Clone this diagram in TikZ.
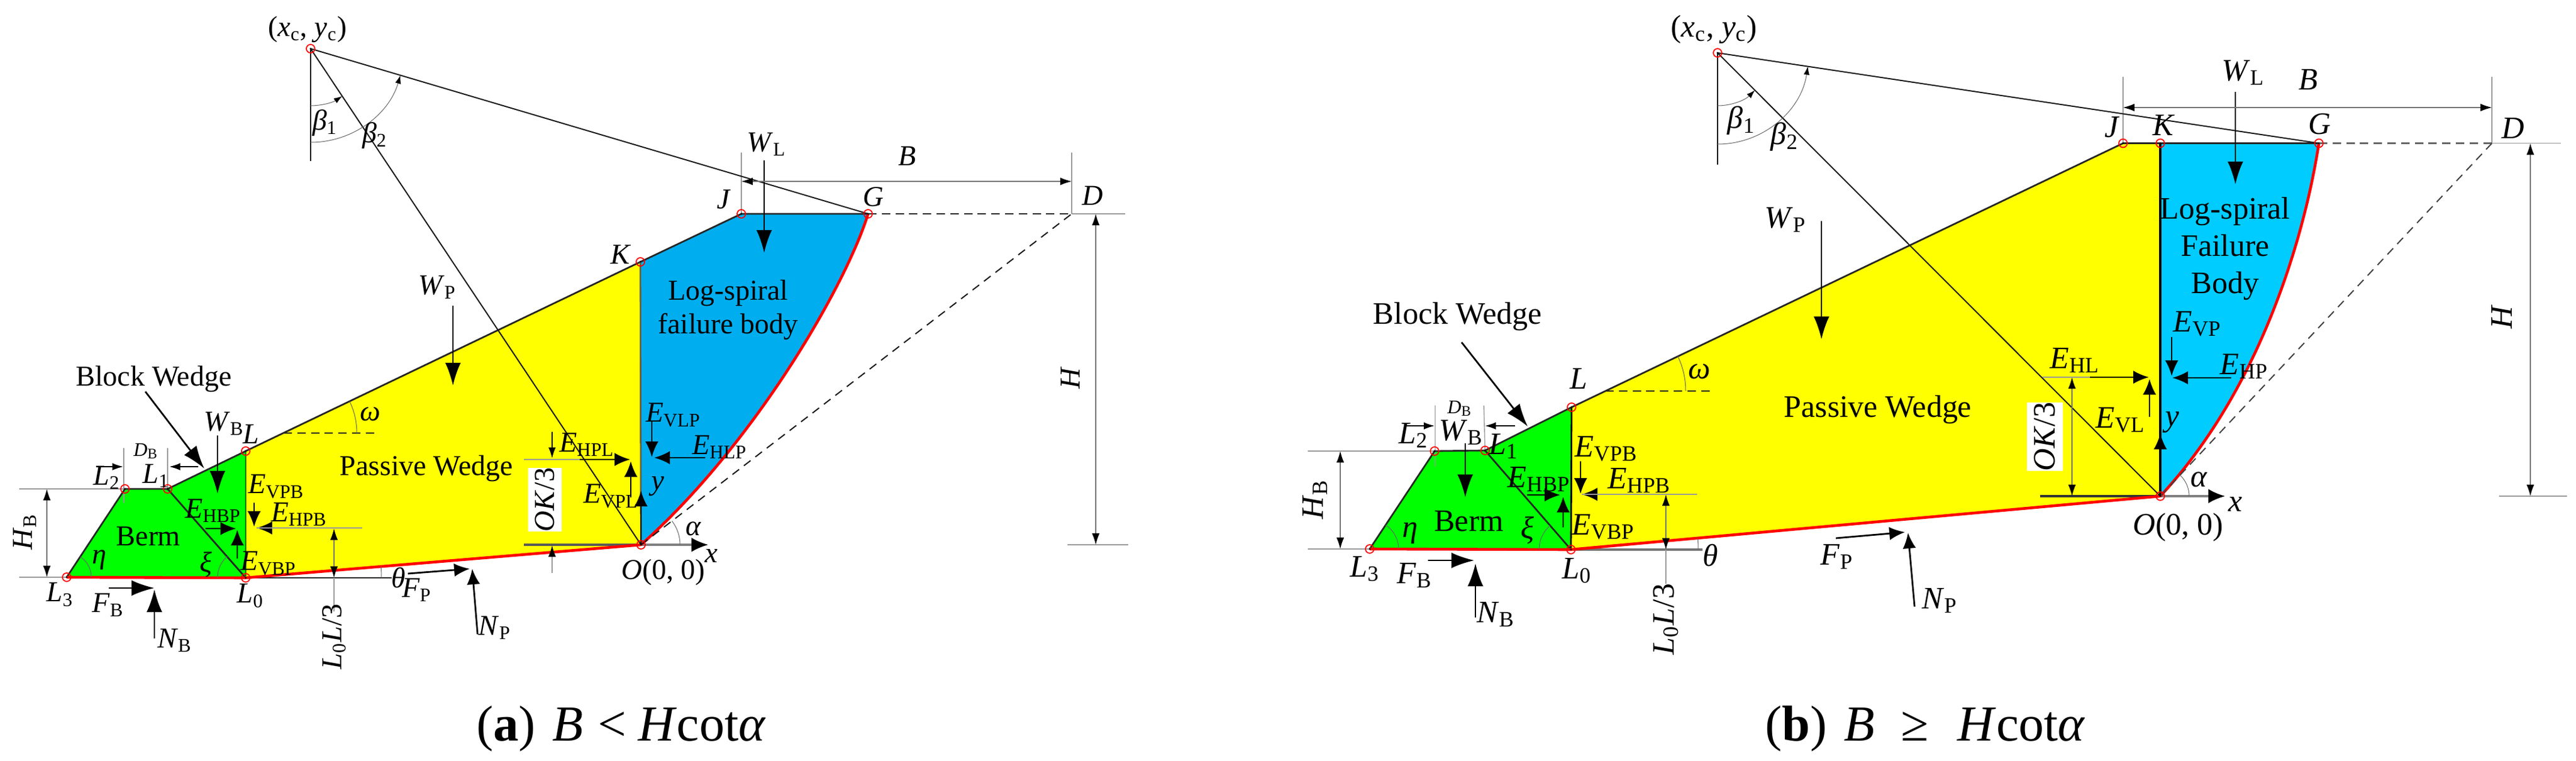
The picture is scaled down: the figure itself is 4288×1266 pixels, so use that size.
\documentclass[tikz,border=0pt]{standalone}
\usepackage{fontspec}
\setmainfont{Liberation Serif}
\usetikzlibrary{arrows.meta}
\newcommand{\lb}[2]{\textit{#1}\textsubscript{#2}}
\definecolor{bluea}{RGB}{0,174,239}
\definecolor{blueb}{RGB}{0,204,255}
\definecolor{wedgey}{RGB}{255,255,0}
\definecolor{wedgeg}{RGB}{0,255,0}
\definecolor{slipred}{RGB}{255,0,0}
\tikzset{
  laba/.style={font=\fontsize{12}{14}\selectfont,inner sep=0pt,align=center},
  labb/.style={font=\fontsize{13}{15}\selectfont,inner sep=0pt,align=center},
  capt/.style={font=\fontsize{21}{24}\selectfont,inner sep=0pt,anchor=base west},
  fbig/.style={-{Latex[length=9.5pt,width=6.5pt]},line width=.7pt},
  fmid/.style={-{Latex[length=6.5pt,width=5.5pt]},line width=.7pt},
  fsml/.style={-{Latex[length=4.5pt,width=3pt]},line width=.4pt},
  dimln/.style={{Latex[length=4.8pt,width=3.2pt,black]}-{Latex[length=4.8pt,width=3.2pt,black]},line width=.35pt,black!55},
  extln/.style={line width=.35pt,black!40},
  bodyln/.style={line width=.7pt,black!85},
  thinln/.style={line width=.5pt,black!90},
  anglearc/.style={line width=.25pt,black!60},
  redln/.style={line width=1.15pt,slipred},
  pinmark/.style={line width=.45pt,slipred},
  okbox/.style={fill=white,rotate=90,inner sep=0pt,minimum width=25pt,minimum height=14pt}
}
\begin{document}
\begin{tikzpicture}[x=.25pt,y=-.25pt,>=stealth]
\useasboundingbox (0,0) rectangle (4288,1266);
% points of (a)
\coordinate (Ca) at (517,81);
\coordinate (L3a) at (111,961);
\coordinate (L2a) at (208,814);
\coordinate (L1a) at (279,814);
\coordinate (La) at (409,751);
\coordinate (L0a) at (409,962);
\coordinate (Ka) at (1066,436);
\coordinate (Ja) at (1234,356);
\coordinate (Ga) at (1445,356);
\coordinate (Da) at (1784,356);
\coordinate (Oa) at (1067,907);
% fills of (a)
\fill[wedgeg] (L3a)--(L2a)--(L1a)--(La)--(L0a)--cycle;
\fill[wedgey] (La)--(L0a)--(Oa)--(Ka)--cycle;
\fill[bluea] (Ka)--(Ja)--(Ga) .. controls (1410,470) and (1260,735) .. (Oa)--cycle;
% lines of (a)
\draw[extln] (32,814)--(L2a) (32,961)--(L3a);
\draw[extln] (206,746)--(206,837) (279,746)--(L1a);
\draw[extln] (1234,254)--(Ja) (Da)--(1784,254);
\draw[extln] (Da)--(1873,356) (1777,907)--(1878,907);
\draw[bodyln] (L3a)--(L2a)--(L1a)--(La)--(Ka)--(Ja)--(Ga);
\draw[bodyln] (L1a)--(L0a);
\draw[line width=.7pt,black!55!green] (La)--(L0a);
\draw[line width=.7pt,black!70!yellow] (Ka)--(Oa);
\draw[bodyln] (L0a)--(652,962);
\draw[line width=.9pt,black!65] (872,907)--(Oa);
\draw[line width=.9pt,black!50,-{Latex[length=7pt,width=6pt,black]}] (Oa)--(1179,907);
\draw[redln] (L3a)--(L0a)--(Oa);
\draw[redln] (Ga) .. controls (1410,470) and (1260,735) .. (Oa);
\draw[bodyln,dashed,dash pattern=on 3.5pt off 2.2pt] (Ga)--(Da);
\draw[thinln,dashed,dash pattern=on 3.5pt off 2.5pt] (Oa)--(Da);
\draw[bodyln,dashed,dash pattern=on 3.5pt off 2.2pt] (472,721)--(626,721);
\draw[thinln] (Ca)--(517,268) (Ca)--(Oa) (Ca)--(Ga);
% arcs of (a)
\draw[anglearc,-{Latex[length=3.5pt,width=2.4pt,black]}] (Ca) ++(-90:23.75pt) arc[start angle=-90,end angle=-56.3,radius=23.75pt];
\draw[anglearc,-{Latex[length=3.5pt,width=2.4pt,black]}] (Ca) ++(-90:39pt) arc[start angle=-90,end angle=-16.5,radius=39pt];
\draw[anglearc] (472,721) ++(0:30.5pt) arc[start angle=0,end angle=25.6,radius=30.5pt];
\draw[anglearc] (L3a) ++(0:10.25pt) arc[start angle=0,end angle=56.6,radius=10.25pt];
\draw[anglearc] (L0a) ++(180:11.75pt) arc[start angle=180,end angle=131.3,radius=11.75pt];
\draw[anglearc] (L0a) ++(0:56.5pt) arc[start angle=0,end angle=4.8,radius=56.5pt];
\draw[anglearc] (Oa) ++(0:16.25pt) arc[start angle=0,end angle=37.5,radius=16.25pt];
% forces of (a)
\draw[fbig] (242,652)--(340,780);
\draw[fbig] (362,725)--(362,822);
\draw[fbig] (754,509)--(754,642);
\draw[fbig] (1272,267)--(1272,421);
\draw[fbig] (181,979)--(257,979);
\draw[fbig] (257,1063)--(257,981);
\draw[fmid] (342,880)--(393,880);
\draw[fmid] (395,930)--(395,882);
\draw[fmid] (477,879)--(427,879);
\draw[fmid] (423,837)--(423,877);
\draw[fsml] (919,719)--(919,763);
\draw[fmid] (965,765)--(1049,765);
\draw[fmid] (1050,828)--(1050,768);
\draw[fmid] (1174,762)--(1089,762);
\draw[fmid] (1085,701)--(1085,761);
\draw[fmid] (Oa)--(1067,817);
\draw[fmid] (679,955)--(782,947);
\draw[fmid] (795,1056)--(786,947);
\draw[fsml] (160,777)--(205,777);
\draw[fsml] (330,777)--(282,777);
% dimensions of (a)
\draw[dimln] (78,814)--(78,961);
\draw[dimln] (556,880)--(556,962);
\draw[extln] (427,879)--(603,879) (556,962)--(556,1018);
\draw[extln] (872,765)--(965,765);
\draw[dimln] (1234,302)--(1784,302);
\draw[dimln] (1824,356)--(1824,907);
\draw[extln,-{Latex[length=4.8pt,width=3.2pt,black]}] (919,954)--(919,908);
\foreach \p in {Ca,L3a,L2a,L1a,La,L0a,Ka,Ja,Ga,Oa} {
  \draw[pinmark] (\p) circle (1.75pt);
  \fill[black] (\p) circle (.4pt);
}
% labels of (a)
\node[laba] (acen) at (512,49) {(\lb{x}{c}, \lb{y}{c})};
\node[laba] (abeta1) at (541,205) {\lb{β}{1}};
\node[laba] (abeta2) at (624,226) {\lb{β}{2}};
\node[laba] (awp) at (728,478) {\lb{W}{P}};
\node[laba] (awl) at (1276,240) {\lb{W}{L}};
\node[laba] (awb) at (373,705) {\lb{W}{B}};
\node[laba] (aB) at (1510,260) {\textit{B}};
\node[laba] (aJ) at (1205,332) {\textit{J}};
\node[laba] (aG) at (1454,328) {\textit{G}};
\node[laba] (aD) at (1819,326) {\textit{D}};
\node[laba] (aK) at (1034,424) {\textit{K}};
\node[laba] (aL) at (418,723) {\textit{L}};
\node[laba,rotate=90] (aH) at (1782,629) {\textit{H}};
\node[laba,rotate=90] (aHB) at (41,885) {\lb{H}{B}};
\node[laba] (aspiral) at (1212,516) {Log-spiral\\[0pt]failure body};
\node[laba] (apassive) at (710,780) {Passive Wedge};
\node[laba] (ablock) at (256,631) {Block Wedge};
\node[laba] (aberm) at (247,893) {Berm};
\node[laba] (aomega) at (616,689) {\textit{ω}};
\node[laba] (aeta) at (165,932) {\textit{η}};
\node[laba] (axi) at (343,940) {\textit{ξ}};
\node[laba] (atheta) at (663,962) {\textit{θ}};
\node[laba] (aalpha) at (1154,880) {\textit{α}};
\node[laba] (ax) at (1184,925) {\textit{x}};
\node[laba] (ay) at (1095,810) {\textit{y}};
\node[laba] (aorigin) at (1104,953) {\textit{O}(0, 0)};
\node[laba] (aL2) at (178,795) {\lb{L}{2}};
\node[laba] (aL1) at (260,792) {\lb{L}{1}};
\node[laba] (aL3) at (100,990) {\lb{L}{3}};
\node[laba] (aL0) at (417,992) {\lb{L}{0}};
\node[laba,font=\fontsize{8}{9}\selectfont] (aDB) at (243,751) {\lb{D}{B}};
\node[laba] (aehbp) at (355,850) {\lb{E}{HBP}};
\node[laba] (aehpb) at (498,856) {\lb{E}{HPB}};
\node[laba] (aevpb) at (460,810) {\lb{E}{VPB}};
\node[laba] (aevbp) at (447,938) {\lb{E}{VBP}};
\node[laba] (aehpl) at (977,740) {\lb{E}{HPL}};
\node[laba] (aevpl) at (1017,826) {\lb{E}{VPL}};
\node[laba] (aevlp) at (1121,691) {\lb{E}{VLP}};
\node[laba] (aehlp) at (1198,744) {\lb{E}{HLP}};
\node[laba] (afb) at (180,1007) {\lb{F}{B}};
\node[laba] (anb) at (291,1066) {\lb{N}{B}};
\node[laba] (afp) at (694,982) {\lb{F}{P}};
\node[laba] (anp) at (824,1045) {\lb{N}{P}};
\node[laba,rotate=90] (aL0L) at (556,1060) {\lb{L}{0}\textit{L}/3};
\node[laba,okbox] (aOK) at (907,832) {\textit{OK}/3};
\node[capt] (capa) at (793,1233) {(\textbf{a})\hspace*{7pt}\textit{B}\hspace*{6pt}<\hspace*{5pt}\textit{H}cot\textit{α}};
% points of (b)
\coordinate (Cb) at (2859,88);
\coordinate (L3b) at (2280,914);
\coordinate (L2b) at (2388,751);
\coordinate (L1b) at (2472,750);
\coordinate (Lb) at (2616,678);
\coordinate (L0b) at (2615,915);
\coordinate (Kb) at (3596,238.5);
\coordinate (Jb) at (3534,238.5);
\coordinate (Gb) at (3860,238.5);
\coordinate (Db) at (4148,238.5);
\coordinate (Ob) at (3596,826);
% fills of (b)
\fill[wedgeg] (L3b)--(L2b)--(L1b)--(Lb)--(L0b)--cycle;
\fill[wedgey] (Lb)--(L0b)--(Ob)--(Kb)--(Jb)--cycle;
\fill[blueb] (Kb)--(Gb) .. controls (3835,400) and (3760,650) .. (Ob)--cycle;
% lines of (b)
\draw[extln] (2177,751)--(L2b) (2177,914)--(L3b);
\draw[extln] (2389,675)--(2389,777) (2470,675)--(L1b);
\draw[extln] (3534,128)--(Jb) (4148,128)--(Db);
\draw[extln] (Db)--(4263,238.5) (4160,826)--(4273,826);
\draw[bodyln] (L3b)--(L2b)--(L1b)--(Lb)--(Jb)--(Gb);
\draw[bodyln] (L1b)--(L0b);
\draw[bodyln,black] (Lb)--(L0b);
\draw[line width=.8pt,black] (Kb)--(Ob);
\draw[line width=.8pt,black!55] (L0b)--(2834,915);
\draw[line width=.9pt,black!80] (3396,826)--(Ob);
\draw[line width=.9pt,black!50,-{Latex[length=7pt,width=6pt,black]}] (Ob)--(3704,826);
\draw[redln] (L3b)--(L0b)--(Ob);
\draw[redln] (Gb) .. controls (3835,400) and (3760,650) .. (Ob);
\draw[bodyln,black!60,dashed,dash pattern=on 3.5pt off 2.2pt] (Gb)--(Db);
\draw[thinln,black!75,dashed,dash pattern=on 3.5pt off 2.5pt] (Ob)--(Db);
\draw[bodyln,dashed,dash pattern=on 3.5pt off 2.2pt] (2672,651)--(2850,651);
\draw[thinln] (Cb)--(2859,274) (Cb)--(Ob) (Cb)--(Gb);
% arcs of (b)
\draw[anglearc,-{Latex[length=3.5pt,width=2.4pt,black]}] (Cb) ++(-90:22pt) arc[start angle=-90,end angle=-45,radius=22pt];
\draw[anglearc,-{Latex[length=3.5pt,width=2.4pt,black]}] (Cb) ++(-90:38pt) arc[start angle=-90,end angle=-8.5,radius=38pt];
\draw[anglearc] (2672,651) ++(0:33.5pt) arc[start angle=0,end angle=25.6,radius=33.5pt];
\draw[anglearc] (L3b) ++(0:12pt) arc[start angle=0,end angle=56.5,radius=12pt];
\draw[anglearc] (L0b) ++(180:13.25pt) arc[start angle=180,end angle=131,radius=13.25pt];
\draw[anglearc] (L0b) ++(0:53pt) arc[start angle=0,end angle=5.2,radius=53pt];
\draw[anglearc] (Ob) ++(0:12pt) arc[start angle=0,end angle=46.8,radius=12pt];
% forces of (b)
\draw[fbig] (2433,570)--(2543,710);
\draw[fbig] (2439,738)--(2439,828);
\draw[fbig] (3032,368)--(3032,565);
\draw[fbig] (3721,153)--(3721,307);
\draw[fbig] (2377,933)--(2454,933);
\draw[fbig] (2456,1028)--(2456,938);
\draw[fmid] (2542,824)--(2597,824);
\draw[fmid] (2602,878)--(2602,827);
\draw[fmid] (2631,768)--(2631,822);
\draw[fmid] (2690,823)--(2633,823);
\draw[fmid] (3479,628)--(3577,628);
\draw[fmid] (3578,694)--(3578,631);
\draw[fmid] (3615,561)--(3615,626);
\draw[fmid] (3714,629)--(3616,629);
\draw[fmid] (Ob)--(3596,722);
\draw[fmid] (3056,896)--(3171,886);
\draw[fmid] (3187,1010)--(3176,887);
\draw[fsml] (2338,709)--(2388,709);
\draw[fsml] (2522,709)--(2472,709);
% dimensions of (b)
\draw[dimln] (2231,751)--(2231,914);
\draw[dimln] (2773,823)--(2773,915);
\draw[extln] (2633,823)--(2825,823) (2773,915)--(2773,972);
\draw[extln] (3400,628)--(3479,628);
\draw[dimln] (3449,628)--(3449,826);
\draw[dimln] (3534,179)--(4148,179);
\draw[dimln] (4212,238.5)--(4212,826);
\foreach \p in {Cb,L3b,L2b,L1b,Lb,L0b,Kb,Jb,Gb,Ob} {
  \draw[pinmark] (\p) circle (1.75pt);
  \fill[black] (\p) circle (.4pt);
}
% labels of (b)
\node[labb] (bcen) at (2853,49) {(\lb{x}{c}, \lb{y}{c})};
\node[labb] (bbeta1) at (2899,201) {\lb{β}{1}};
\node[labb] (bbeta2) at (2971,228) {\lb{β}{2}};
\node[labb] (bwp) at (2972,366) {\lb{W}{P}};
\node[labb] (bwl) at (3734,121) {\lb{W}{L}};
\node[labb] (bwb) at (2432,720) {\lb{W}{B}};
\node[labb] (bB) at (3842,133) {\textit{B}};
\node[labb] (bJ) at (3516,212) {\textit{J}};
\node[labb] (bK) at (3602,208) {\textit{K}};
\node[labb] (bG) at (3861,207) {\textit{G}};
\node[labb] (bD) at (4183,214) {\textit{D}};
\node[labb] (bL) at (2628,630) {\textit{L}};
\node[labb,rotate=90] (bH) at (4164,528) {\textit{H}};
\node[labb,rotate=90] (bHB) at (2189,831) {\lb{H}{B}};
\node[labb] (bspiral) at (3704,414) {Log-spiral\\[.5pt]Failure\\[.5pt]Body};
\node[labb] (bpassive) at (3126,682) {Passive Wedge};
\node[labb] (bblock) at (2426,527) {Block Wedge};
\node[labb] (bberm) at (2445,868) {Berm};
\node[labb] (bomega) at (2829,619) {\textit{ω}};
\node[labb] (beta) at (2347,888) {\textit{η}};
\node[labb] (bxi) at (2543,883) {\textit{ξ}};
\node[labb] (btheta) at (2847,925) {\textit{θ}};
\node[labb] (balpha) at (3661,798) {\textit{α}};
\node[labb] (bx) at (3721,840) {\textit{x}};
\node[labb] (by) at (3616,703) {\textit{y}};
\node[labb] (borigin) at (3626,878) {\textit{O}(0, 0)};
\node[labb] (bL2) at (2353,725) {\lb{L}{2}};
\node[labb] (bL1) at (2503,743) {\lb{L}{1}};
\node[labb] (bL3) at (2272,947) {\lb{L}{3}};
\node[labb] (bL0) at (2625,950) {\lb{L}{0}};
\node[labb,font=\fontsize{8}{9}\selectfont] (bDB) at (2430,680) {\lb{D}{B}};
\node[labb] (behbp) at (2562,798) {\lb{E}{HBP}};
\node[labb] (behpb) at (2729,800) {\lb{E}{HPB}};
\node[labb] (bevpb) at (2674,747) {\lb{E}{VPB}};
\node[labb] (bevbp) at (2669,877) {\lb{E}{VBP}};
\node[labb] (behl) at (3454,600) {\lb{E}{HL}};
\node[labb] (bevl) at (3530,699) {\lb{E}{VL}};
\node[labb] (bevp) at (3658,539) {\lb{E}{VP}};
\node[labb] (behp) at (3736,610) {\lb{E}{HP}};
\node[labb] (bfb) at (2355,958) {\lb{F}{B}};
\node[labb] (bnb) at (2490,1023) {\lb{N}{B}};
\node[labb] (bfp) at (3058,927) {\lb{F}{P}};
\node[labb] (bnp) at (3229,1000) {\lb{N}{P}};
\node[labb,rotate=90] (bL0L) at (2773,1031) {\lb{L}{0}\textit{L}/3};
\node[labb,okbox,minimum width=27pt,minimum height=15pt] (bOK) at (3404,727) {\textit{OK}/3};
\node[capt] (capb) at (2938,1233) {(\textbf{b})\hspace*{7pt}\textit{B}\hspace*{11pt}≥\hspace*{12pt}\textit{H}cot\textit{α}};
\end{tikzpicture}
\end{document}
